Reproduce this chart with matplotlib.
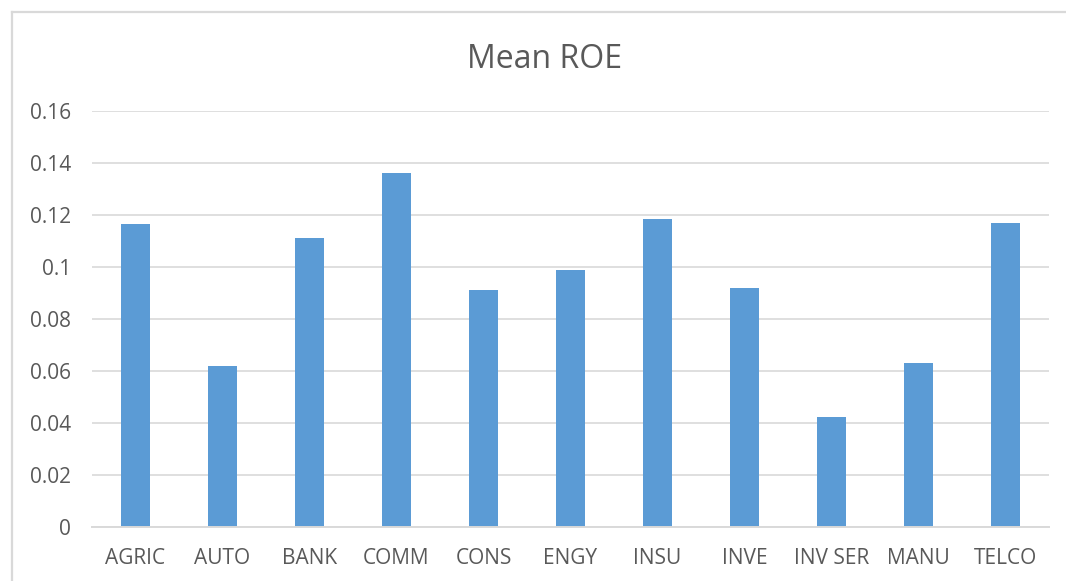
import matplotlib
matplotlib.use("Agg")
import matplotlib.pyplot as plt

# data
sectors = ["AGRIC", "AUTO", "BANK", "COMM", "CONS", "ENGY", "INSU", "INVE", "INV SER", "MANU", "TELCO"]
mean_roe = [0.1165, 0.0618, 0.1110, 0.1360, 0.0910, 0.0987, 0.1183, 0.0917, 0.0422, 0.0628, 0.1168]
yticks = [0, 0.02, 0.04, 0.06, 0.08, 0.1, 0.12, 0.14, 0.16]
ytick_labels = ["0", "0.02", "0.04", "0.06", "0.08", "0.1", "0.12", "0.14", "0.16"]

W, H = 1066, 581
text_col = "#595959"
grid_col = "#d9d9d9"
bar_col = "#5b9bd5"

plt.rcParams['font.family'] = ['Open Sans', 'DejaVu Sans']

fig = plt.figure(figsize=(W / 100, H / 100), dpi=100)

# chart border (only left and top visible in the screenshot)
fig.add_artist(plt.Line2D([11.5 / W, 11.5 / W], [0, 1 - 12 / H], color=grid_col, lw=1.6))
fig.add_artist(plt.Line2D([11.5 / W, 1], [1 - 12 / H, 1 - 12 / H], color=grid_col, lw=1.6))

left, right = 92 / W, 1049 / W
bottom, top = 1 - 526.7 / H, 1 - 110.7 / H
ax = fig.add_axes([left, bottom, right - left, top - bottom])

x = range(len(sectors))
ax.bar(x, mean_roe, width=0.325, color=bar_col, zorder=3)

ax.set_xlim(-0.5, len(sectors) - 0.5)
ax.set_ylim(0, 0.16)
ax.set_yticks(yticks)
ax.set_yticklabels(ytick_labels)
ax.set_xticks(list(x))
ax.set_xticklabels(sectors)

ax.grid(axis='y', color=grid_col, lw=1.2, zorder=0)
for s in ['top', 'right', 'left']:
    ax.spines[s].set_visible(False)
ax.spines['bottom'].set_color(grid_col)
ax.spines['bottom'].set_linewidth(1.4)
ax.spines['bottom'].set_zorder(4)

ax.tick_params(axis='y', length=0, pad=15, labelsize=15, labelcolor=text_col)
ax.tick_params(axis='x', length=0, pad=15, labelsize=15, labelcolor=text_col)

# title is centred on the chart area, not on the plot area
fig.text(545 / W, 1 - 68 / H, "Mean ROE", ha='center', va='baseline',
         fontsize=23, color=text_col)

fig.savefig("out.png", dpi=100)
